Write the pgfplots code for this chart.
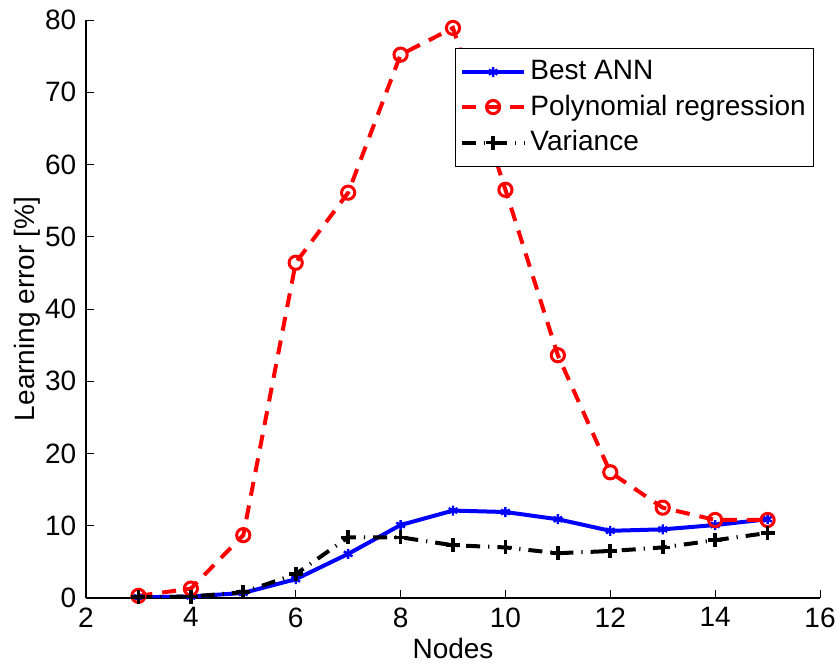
\documentclass[border=0pt]{standalone}
\usepackage{fontspec}
\setmainfont{Liberation Sans}
\usepackage{pgfplots}
\pgfplotsset{compat=1.18}
\begin{document}
\fontsize{14}{16}\selectfont
\begin{tikzpicture}

\begin{axis}[%
width=367pt,
height=289pt,
scale only axis,
xmin=2,
xmax=16,
xtick={2,4,...,16},
ymin=0,
ymax=80,
ytick={0,10,...,80},
axis x line=bottom,
axis y line=left,
axis line style={-, line width=0.6pt},
tick align=inside,
major tick length=4pt,
tick style={black, line width=0.5pt},
xlabel={Nodes},
ylabel={Learning error [\%]},
xlabel style={yshift=4pt, font=\fontsize{14}{16}\selectfont},
ylabel style={yshift=-7pt, font=\fontsize{14}{16}\selectfont},
/pgf/number format/assume math mode=true,
ticklabel style={font=\fontsize{14}{16}\selectfont},
legend image code/.code={\draw[mark repeat=2, mark phase=2] plot coordinates {(0cm,0cm) (0.55cm,0cm) (1.1cm,0cm)};},
legend style={at={(0.503,0.952)}, anchor=north west, legend cell align=left, align=left, draw=black, line width=0.6pt, font=\fontsize{14}{16}\selectfont, row sep=1.5pt, inner xsep=2pt, inner ysep=4pt},
]
\addplot[color=blue, line width=2pt, mark=asterisk, mark size=2.5pt, mark options={solid, line width=1.2pt}] table[row sep=crcr] {%
3	0.1\\
4	0.2\\
5	0.7\\
6	2.6\\
7	6.1\\
8	10.1\\
9	12.1\\
10	11.9\\
11	10.9\\
12	9.3\\
13	9.5\\
14	10.1\\
15	10.9\\
};
\addlegendentry{Best ANN}

\addplot[color=red, line width=2pt, dash pattern=on 7pt off 5pt, mark=o, mark size=3.3pt, mark options={solid, line width=1.5pt}] table[row sep=crcr] {%
3	0.3\\
4	1.3\\
5	8.7\\
6	46.4\\
7	56.1\\
8	75.2\\
9	78.9\\
10	56.5\\
11	33.6\\
12	17.4\\
13	12.5\\
14	10.8\\
15	10.8\\
};
\addlegendentry{Polynomial regression}

\addplot[color=black, line width=2pt, dash pattern=on 7pt off 4pt on 0.6pt off 4pt, mark=+, mark size=3.5pt, mark options={solid, line width=1.8pt}] table[row sep=crcr] {%
3	0.1\\
4	0.2\\
5	0.8\\
6	3.3\\
7	8.4\\
8	8.4\\
9	7.3\\
10	7.0\\
11	6.2\\
12	6.5\\
13	7.0\\
14	8.0\\
15	9.0\\
};
\addlegendentry{Variance}

\end{axis}
% fix the page to the reference margins round the axis box
\pgfresetboundingbox
\path ([xshift=-43pt,yshift=-34pt]current axis.south west) rectangle ([xshift=8.5pt,yshift=10pt]current axis.north east);
\end{tikzpicture}
\end{document}
